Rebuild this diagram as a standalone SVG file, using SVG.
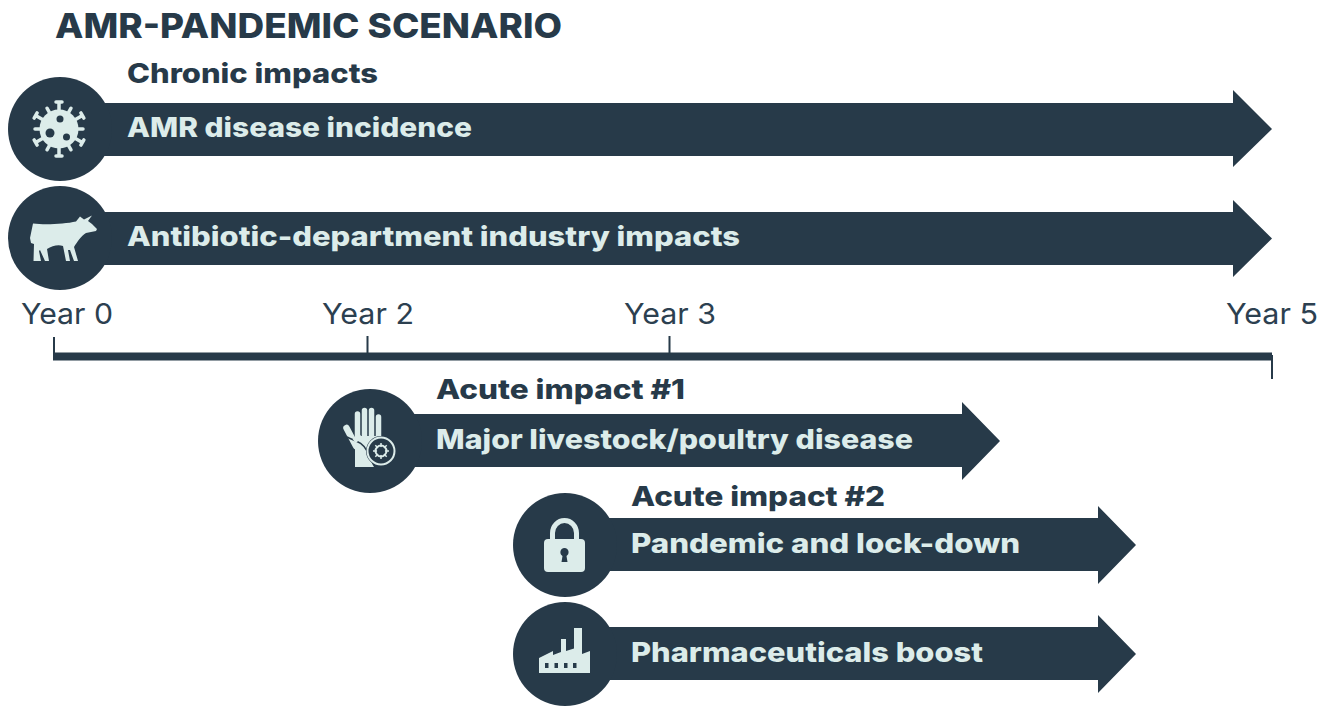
<svg xmlns="http://www.w3.org/2000/svg" width="1327" height="706" viewBox="0 0 1327 706">
<style>
.d{fill:#273a49}
.i{fill:#dcecea}
text{font-family:"Inter","Open Sans","Liberation Sans",sans-serif}
.b{font-weight:800;font-size:27px}
.l{fill:#dcecea}
.t{fill:#273a49}
.y{font-weight:400;font-size:29px;fill:#2c4050}
.sp{stroke:#dcecea;stroke-width:3.500;stroke-linecap:round;fill:none}
</style>
<defs>
<path id="long" class="sp" d="M0 -15V-26.500M-3 -27H3"/>
<path id="short" class="sp" d="M0 -15V-24"/>
</defs>
<rect width="1327" height="706" fill="#fff"/>
<text id="title" x="55" y="38" class="t" style="font-weight:800;font-size:34px" textLength="507" lengthAdjust="spacingAndGlyphs">AMR-PANDEMIC SCENARIO</text>
<text x="127" y="83" class="b t" textLength="251" lengthAdjust="spacingAndGlyphs">Chronic impacts</text>
<g id="connectors">
<path class="d" d="M60 103H1233V90L1272 129L1233 167V156H60Z"/>
<path class="d" d="M60 212H1233V200L1272 238.500L1233 277V265H60Z"/>
<path class="d" d="M370 414H962V402L1000 441L962 480V467H370Z"/>
<path class="d" d="M565 518H1098V506L1136 545L1098 584V571H565Z"/>
<path class="d" d="M565 627H1098V615L1136 654L1098 693V680H565Z"/>
</g>
<g id="timeline">
<rect class="d" x="53" y="352.500" width="1219" height="8"/>
<rect class="d" x="53" y="337" width="2" height="23"/>
<rect class="d" x="366.500" y="336" width="2" height="20"/>
<rect class="d" x="668.500" y="336" width="2" height="20"/>
<rect class="d" x="1271" y="355" width="2" height="24"/>
<text class="y" x="67" y="324" text-anchor="middle" textLength="92" lengthAdjust="spacingAndGlyphs">Year 0</text>
<text class="y" x="368" y="324" text-anchor="middle" textLength="92" lengthAdjust="spacingAndGlyphs">Year 2</text>
<text class="y" x="670" y="324" text-anchor="middle" textLength="92" lengthAdjust="spacingAndGlyphs">Year 3</text>
<text class="y" x="1272" y="324" text-anchor="middle" textLength="92" lengthAdjust="spacingAndGlyphs">Year 5</text>
</g>
<g id="node-amr">
<circle class="d" cx="60" cy="129" r="52"/>
<g transform="translate(59 129)">
<use href="#long"/><use href="#long" transform="rotate(60)"/><use href="#long" transform="rotate(120)"/><use href="#long" transform="rotate(180)"/><use href="#long" transform="rotate(240)"/><use href="#long" transform="rotate(300)"/>
<use href="#short" transform="rotate(30)"/><use href="#short" transform="rotate(90)"/><use href="#short" transform="rotate(150)"/><use href="#short" transform="rotate(210)"/><use href="#short" transform="rotate(270)"/><use href="#short" transform="rotate(330)"/>
<circle class="i" r="19.500"/>
</g>
<g class="d"><circle cx="60" cy="119" r="3.500"/><circle cx="50" cy="133" r="4.500"/><circle cx="66.500" cy="137" r="3.500"/></g>
<text class="b l" x="127" y="137" textLength="345" lengthAdjust="spacingAndGlyphs">AMR disease incidence</text>
</g>
<g id="node-industry">
<circle class="d" cx="60" cy="238" r="52"/>
<path class="i" d="M33 223.500C45 225 65 224 76 221.500L80 216.500L84 219.500L92 215.500L88 221L92 224L97 229L96 231L86 233C81 236 77 242 74 247L78 261H74L70 250L68 250L70 261H66L63 246C58 244 52 246 47 249L49 261H45L40 250L39 251L41 261H33.500L34 244L31 243L30 238Z"/>
<text class="b l" x="127" y="246" textLength="613" lengthAdjust="spacingAndGlyphs">Antibiotic-department industry impacts</text>
</g>
<g id="node-acute1">
<circle class="d" cx="370" cy="441" r="52"/>
<path class="i" d="M355 436H381V441C374 443 370 449 370 455C370 460 372 464 374 467H355Z"/>
<g stroke="#dcecea" stroke-width="5.500" stroke-linecap="round" fill="none">
<path d="M357.500 438V414M364.500 438V410.500M371.500 438V410.500M378.500 438V417"/>
<path d="M346.500 428L356 446" stroke-width="6.500"/>
</g>
<path d="M347 437C354 441 362 441 367 451" fill="none" stroke="#273a49" stroke-width="1.500"/>
<path d="M354 441L361 436" stroke="#dcecea" stroke-width="5"/>
<circle cx="381" cy="451" r="15" class="d"/>
<circle cx="381" cy="451" r="13.500" fill="none" stroke="#dcecea" stroke-width="2"/>
<circle cx="381" cy="451" r="5.500" fill="none" stroke="#dcecea" stroke-width="2"/>
<path d="M381 443V459M373 451H389M375.300 445.300L386.700 456.700M386.700 445.300L375.300 456.700" stroke="#dcecea" stroke-width="1.500"/>
<circle cx="381" cy="451" r="4" class="d"/>
<text class="b t" x="436" y="399" textLength="249" lengthAdjust="spacingAndGlyphs">Acute impact #1</text>
<text class="b l" x="436" y="449" textLength="477" lengthAdjust="spacingAndGlyphs">Major livestock/poultry disease</text>
</g>
<g id="node-acute2">
<circle class="d" cx="565" cy="545" r="52"/>
<rect class="i" x="544" y="539" width="41" height="33" rx="4"/>
<path d="M552.500 540V533A12 12.500 0 0 1 576.500 533V540" fill="none" stroke="#dcecea" stroke-width="5"/>
<path class="d" d="M564.500 548C560 548 559 554 562.500 556L561.500 562H567.500L566.500 556C570 554 569 548 564.500 548Z"/>
<text class="b t" x="631" y="506" textLength="254" lengthAdjust="spacingAndGlyphs">Acute impact #2</text>
<text class="b l" x="631" y="553" textLength="389" lengthAdjust="spacingAndGlyphs">Pandemic and lock-down</text>
</g>
<g id="node-boost">
<circle class="d" cx="565" cy="654" r="52"/>
<path class="i" d="M539 673V658L553 651V655L561 652V639H566V651L574 648.500V628H582V654L590 651V673Z"/>
<g class="d"><rect x="545" y="663" width="3.500" height="5"/><rect x="554.500" y="663" width="3.500" height="5"/><rect x="564" y="663" width="3.500" height="5"/><rect x="573" y="663" width="3.500" height="5"/></g>
<text class="b l" x="631" y="662" textLength="352" lengthAdjust="spacingAndGlyphs">Pharmaceuticals boost</text>
</g>
</svg>
